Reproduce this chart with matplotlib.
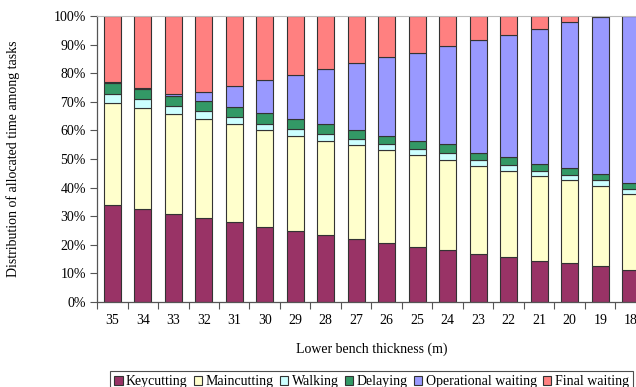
import matplotlib
matplotlib.use("Agg")
import matplotlib.pyplot as plt
from matplotlib.ticker import FixedLocator, PercentFormatter
from matplotlib.patches import Patch
import numpy as np

plt.rcParams['font.family'] = ['Liberation Serif', 'DejaVu Serif']

thickness = ["35", "34", "33", "32", "31", "30", "29", "28", "27",
             "26", "25", "24", "23", "22", "21", "20", "19", "18"]

keycutting = [34.0, 32.6, 30.6, 29.2, 27.9, 26.2, 24.9, 23.4, 22.2,
              20.5, 19.4, 18.1, 16.7, 15.9, 14.4, 13.5, 12.6, 11.2]
maincutting = [35.5, 35.3, 35.1, 34.8, 34.4, 33.9, 33.1, 33.0, 32.6,
               32.7, 32.1, 31.7, 30.9, 30.0, 29.6, 29.2, 28.1, 26.4]
walking = [3.3, 3.1, 2.9, 2.8, 2.5, 2.3, 2.4, 2.2, 2.1,
           2.0, 2.1, 2.2, 2.1, 2.1, 1.8, 1.8, 2.0, 1.8]
delaying = [3.7, 3.5, 3.6, 3.4, 3.3, 3.7, 3.7, 3.5, 3.3,
            2.9, 2.8, 3.1, 2.5, 2.8, 2.5, 2.4, 2.1, 2.1]
operational_waiting = [0.5, 0.4, 0.4, 3.2, 7.4, 11.5, 15.3, 19.2, 23.3,
                       27.5, 30.8, 34.4, 39.4, 42.6, 47.3, 50.9, 54.9, 58.5]
final_waiting = [23.0, 25.1, 27.4, 26.6, 24.5, 22.4, 20.6, 18.7, 16.5,
                 14.4, 12.8, 10.5, 8.4, 6.6, 4.4, 2.2, 0.3, 0.0]

series = [
    ("Keycutting", keycutting, "#993366"),
    ("Maincutting", maincutting, "#FFFFCC"),
    ("Walking", walking, "#CCFFFF"),
    ("Delaying", delaying, "#339966"),
    ("Operational waiting", operational_waiting, "#9999FF"),
    ("Final waiting", final_waiting, "#FF8080"),
]

fig = plt.figure(figsize=(6.36, 3.87), dpi=100)
# plot area runs a little past the right edge of the canvas
ax = fig.add_axes([97 / 636, 85 / 387, 549 / 636, 286 / 387])

x = np.arange(len(thickness))
bottom = np.zeros(len(thickness))
for name, vals, col in series:
    vals = np.array(vals)
    ax.bar(x, vals, width=0.56, bottom=bottom, color=col,
           edgecolor="#333333", linewidth=0.8, label=name, zorder=2)
    bottom += vals

ax.set_xlim(-0.5, len(thickness) - 0.5)
ax.set_ylim(0, 100)
ax.yaxis.set_major_locator(FixedLocator(np.arange(0, 101, 10)))
ax.yaxis.set_major_formatter(PercentFormatter(decimals=0))

ax.set_xticks(x)
ax.set_xticklabels(thickness)
ax.xaxis.set_minor_locator(FixedLocator(np.arange(-0.5, len(thickness), 1.0)))
ax.tick_params(axis="x", which="major", length=0, pad=9, labelsize=10)
ax.tick_params(axis="x", which="minor", length=5, width=0.8, color="#555555")
ax.tick_params(axis="y", length=5, width=0.8, color="#555555", labelsize=10, pad=3)

for side in ("left", "bottom"):
    ax.spines[side].set_color("#555555")
    ax.spines[side].set_linewidth(0.9)
ax.spines["top"].set_color("#BBBBBB")
ax.spines["top"].set_linewidth(0.8)
ax.spines["right"].set_visible(False)

ax.set_xlabel("Lower bench thickness (m)", fontsize=10, labelpad=11)
ax.set_ylabel("Distribution of allocated time among tasks", fontsize=10, labelpad=24)

handles = [Patch(facecolor=c, edgecolor="#333333", linewidth=0.8, label=n)
           for n, _, c in series]
leg = fig.legend(handles=handles, loc="upper left",
                 bbox_to_anchor=(110 / 636, 1 - 371 / 387), ncol=6,
                 fontsize=10, frameon=True, fancybox=False,
                 handlelength=0.6, handleheight=0.6, handletextpad=0.25,
                 columnspacing=0.45, borderpad=0.3, borderaxespad=0)
leg.get_frame().set_edgecolor("#222222")
leg.get_frame().set_linewidth(0.8)

fig.savefig("out.png", dpi=100)
